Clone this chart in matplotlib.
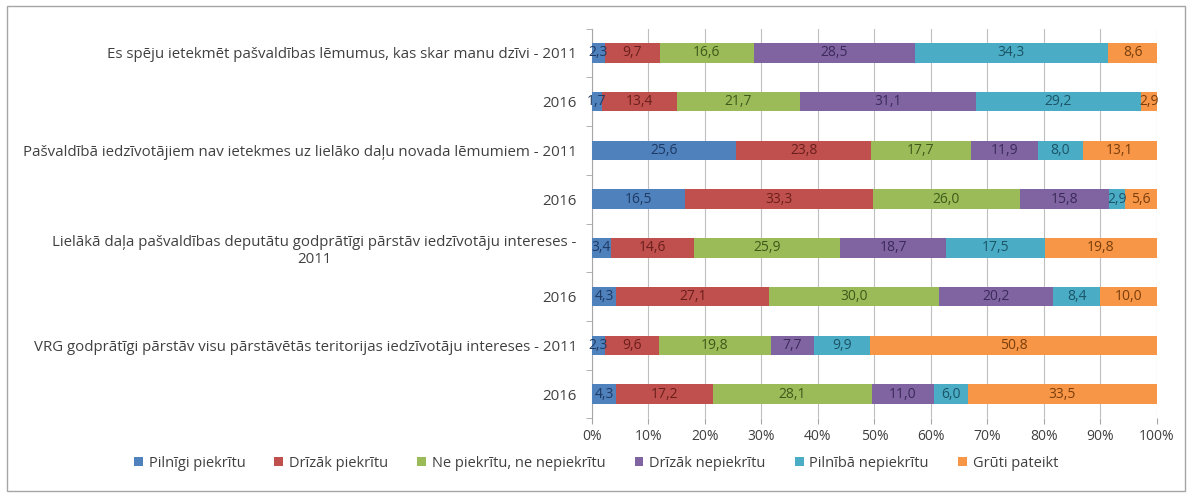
import numpy as np
import matplotlib.pyplot as plt
from matplotlib.patches import Rectangle

plt.rcParams['font.family'] = ['Open Sans', 'DejaVu Sans']

# Categories (top to bottom)
categories = [
    "Es spēju ietekmēt pašvaldības lēmumus, kas skar manu dzīvi - 2011",
    "2016",
    "Pašvaldībā iedzīvotājiem nav ietekmes uz lielāko daļu novada lēmumiem - 2011",
    "2016",
    "Lielākā daļa pašvaldības deputātu godprātīgi pārstāv iedzīvotāju intereses -\n2011",
    "2016",
    "VRG godprātīgi pārstāv visu pārstāvētās teritorijas iedzīvotāju intereses - 2011",
    "2016",
]

series_names = ["Pilnīgi piekrītu", "Drīzāk piekrītu", "Ne piekrītu, ne nepiekrītu",
                "Drīzāk nepiekrītu", "Pilnībā nepiekrītu", "Grūti pateikt"]

pilnigi_piekritu = [2.3, 1.7, 25.6, 16.5, 3.4, 4.3, 2.3, 4.3]
drizak_piekritu = [9.7, 13.4, 23.8, 33.3, 14.6, 27.1, 9.6, 17.2]
ne_ne = [16.6, 21.7, 17.7, 26.0, 25.9, 30.0, 19.8, 28.1]
drizak_nepiekritu = [28.5, 31.1, 11.9, 15.8, 18.7, 20.2, 7.7, 11.0]
pilniba_nepiekritu = [34.3, 29.2, 8.0, 2.9, 17.5, 8.4, 9.9, 6.0]
gruti_pateikt = [8.6, 2.9, 13.1, 5.6, 19.8, 10.0, 50.8, 33.5]

series = [pilnigi_piekritu, drizak_piekritu, ne_ne, drizak_nepiekritu,
          pilniba_nepiekritu, gruti_pateikt]
colors = ['#4F81BD', '#C0504D', '#9BBB59', '#8064A2', '#4BACC6', '#F79646']
text_colors = ['#1F3A63', '#6B1F1D', '#3D5A1A', '#3B2A5A', '#1B5566', '#7A3E0C']

fig = plt.figure(figsize=(11.92, 4.97), dpi=100)
fig.patches.append(Rectangle((0.006, 0.012), 0.988, 0.976, transform=fig.transFigure,
                             fill=False, edgecolor='#A6A6A6', linewidth=1))
ax = fig.add_axes([0.4966, 0.158, 0.474, 0.7845])

y = np.arange(len(categories))
totals = np.array(series).sum(axis=0)
left = np.zeros(len(categories))
for raw, name, col, tcol in zip(series, series_names, colors, text_colors):
    raw = np.array(raw)
    vals = raw / totals * 100
    ax.barh(y, vals, left=left, height=0.4, color=col, label=name, zorder=3)
    for yi, l, v, r in zip(y, left, vals, raw):
        ax.text(l + v / 2, yi, f"{r:.1f}".replace('.', ','), ha='center', va='center',
                fontsize=10, color=tcol, zorder=4)
    left += vals

ax.set_xlim(0, 100)
ax.set_ylim(len(categories) - 0.5, -0.5)
ax.set_yticks(y)
ax.set_yticklabels(categories, fontsize=10.8, color='#404040')
for lbl in ax.get_yticklabels():
    lbl.set_multialignment('center')
ax.set_yticks(np.arange(-0.5, len(categories), 1), minor=True)
ax.tick_params(axis='y', which='major', length=0, pad=11)
ax.tick_params(axis='y', which='minor', length=4, color='#A6A6A6')
ax.set_xticks(np.arange(0, 101, 10))
ax.set_xticklabels([f"{v}%" for v in range(0, 101, 10)], fontsize=10, color='#404040')
ax.tick_params(axis='x', length=4, color='#A6A6A6')
ax.grid(axis='x', color='#BFBFBF', linewidth=0.8, zorder=0)
for s in ['top', 'right', 'bottom']:
    ax.spines[s].set_visible(False)
ax.spines['left'].set_color('#A6A6A6')

ax.legend(loc='center', bbox_to_anchor=(0.5, 0.068), bbox_transform=fig.transFigure,
          ncol=6, frameon=False, fontsize=10.5, handlelength=0.6, handleheight=0.6,
          handletextpad=0.4, columnspacing=2.0, labelcolor='#404040')

fig.savefig('out.png', dpi=100)
